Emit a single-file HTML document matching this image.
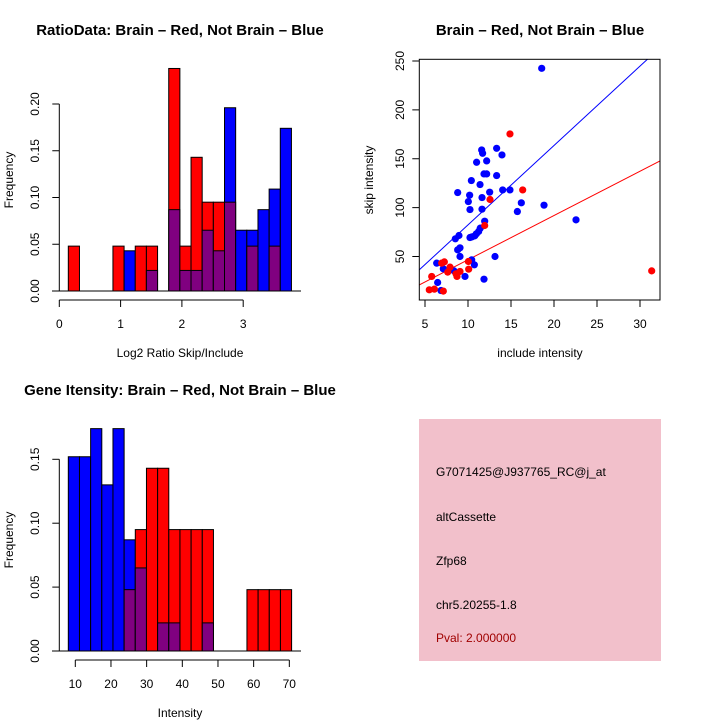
<!DOCTYPE html>
<html><head><meta charset="utf-8"><style>
body{margin:0;background:#fff}
svg{display:block;font-family:"Liberation Sans",sans-serif}
</style></head><body>
<svg id="s" width="720" height="720" viewBox="0 0 720 720"></svg>
<script>
// ---- data: ratio histogram ----
const ratioBinStart = 0.147, ratioBinWidth = 0.182;
const ratioRed  = [0.048,0,0,0,0.048,0,0.048,0.048,0,0.238,0.048,0.143,0.095,0.095,0.095,0,0.048,0,0.048,0];
const ratioBlue = [0,0,0,0,0,0.043,0,0.022,0,0.087,0.022,0.022,0.065,0.043,0.196,0.065,0.065,0.087,0.109,0.174];
const ratioXTicks = [0,1,2,3];
const ratioYTicks = ["0.00","0.05","0.10","0.15","0.20"];
// ---- data: intensity histogram ----
const intBinStart = 8.04, intBinWidth = 3.13;
const intRed  = [0,0,0,0,0,0.048,0.095,0.143,0.143,0.095,0.095,0.095,0.095,0,0,0,0.048,0.048,0.048,0.048];
const intBlue = [0.152,0.152,0.174,0.130,0.174,0.087,0.065,0,0.022,0.022,0,0,0.022,0,0,0,0,0,0,0];
const intXTicks = [10,20,30,40,50,60,70];
const intYTicks = ["0.00","0.05","0.10","0.15"];
// ---- data: scatter ----
const blueX = [18.57,13.33,11.59,11.7,13.95,12.17,11.0,10.39,11.86,12.17,13.33,11.4,8.8,12.52,14.03,14.88,10.19,11.63,10.04,10.23,11.63,16.2,18.84,15.74,22.56,11.94,11.43,11.24,10.97,10.78,8.95,8.53,10.23,10.47,8.8,9.07,9.07,13.14,6.36,10.43,10.74,7.13,8.37,9.65,6.47,6.86,11.86];
const blueY = [242.5,160.7,159,155.6,153.9,147.8,146.4,127.7,134.5,134.5,132.8,123.6,115.4,115.8,118.1,118.1,112.7,110.3,106.2,98,98.4,104.9,102.5,96,87.5,86.1,79,75.6,73.2,71.1,71.5,68.1,69.4,70.1,56.8,58.9,50,50,43.2,46.6,41.5,37.4,35.3,29.6,23.4,15.2,26.8];
const redX = [14.88,16.36,12.56,11.94,31.36,10.04,10.08,7.25,6.94,5.78,7.91,7.64,8.6,9.07,8.72,5.5,6.09,7.13];
const redY = [175.4,118.1,108.3,81.7,35.3,44.9,37,44.5,43.2,29.6,39.1,34,32.3,34.7,29.6,15.9,16.6,14.6];
const blueFit = [1.16, 8.12];  // intercept, slope
const redFit = [1.34, 4.53];
const scXTicks = [5,10,15,20,25,30];
const scYTicks = [50,100,150,200,250];

const NS="http://www.w3.org/2000/svg", svg=document.getElementById('s');
function el(t,a,p){const e=document.createElementNS(NS,t);for(const k in a)e.setAttribute(k,a[k]);(p||svg).appendChild(e);return e;}
function txt(s,a,p){const e=el('text',a,p);e.textContent=s;return e;}
const BLUE='#0000ff',RED='#ff0000',PUR='#800080';

function hist(g, start, w, red, blue, sx, sy){
  for(let i=0;i<red.length;i++){
    const x0=sx(start+i*w), x1=sx(start+(i+1)*w);
    const r=red[i], b=blue[i], m=Math.min(r,b), M=Math.max(r,b);
    if(M>0){
      const top=el('rect',{x:x0,y:sy(M),width:x1-x0,height:sy(0)-sy(M),fill:r>b?RED:BLUE,stroke:'#000','stroke-width':1},g);
      
      
    }
    if(m>0){
      const p=el('rect',{x:x0,y:sy(m),width:x1-x0,height:sy(0)-sy(m),fill:PUR,stroke:'#000','stroke-width':1},g);
      
      
    }
  }
}
function yAxisRot(g,ticks,vals,sy,x,lbx){
  el('line',{x1:x,x2:x,y1:sy(vals[0]),y2:sy(vals[vals.length-1]),stroke:'#000'},g);
  ticks.forEach((t,i)=>{const y=sy(vals[i]);
    el('line',{x1:x-7,x2:x,y1:y,y2:y,stroke:'#000'},g);
    const e=txt(t,{x:lbx,y:y,'font-size':12,'text-anchor':'middle',transform:`rotate(-90 ${lbx} ${y})`},g);
    
    
  });
}
function xAxis(g,ticks,sx,y,ly){
  el('line',{x1:sx(ticks[0]),x2:sx(ticks[ticks.length-1]),y1:y,y2:y,stroke:'#000'},g);
  ticks.forEach(t=>{const x=sx(t);
    el('line',{x1:x,x2:x,y1:y,y2:y+7,stroke:'#000'},g);
    const e=txt(String(t),{x:x,y:ly,'font-size':12,'text-anchor':'middle'},g);
    
    
  });
}

// ---- Panel 1 ----
{
const g=el('g',{});


const sx=v=>59.3+v*61.3, sy=v=>291-v*935;
hist(g,ratioBinStart,ratioBinWidth,ratioRed,ratioBlue,sx,sy);
el('line',{x1:52,x2:301,y1:291,y2:291,stroke:'#000'},g);
yAxisRot(g,ratioYTicks,ratioYTicks.map(Number),sy,59.3,39);
xAxis(g,ratioXTicks,sx,300,328);
const t=txt('RatioData: Brain – Red, Not Brain – Blue',{x:180,y:35,'font-size':15,'font-weight':'bold','text-anchor':'middle'},g);

const xl=txt('Log2 Ratio Skip/Include',{x:180,y:357,'font-size':12,'text-anchor':'middle'},g);

const yl=txt('Frequency',{x:13,y:180,'font-size':12,'text-anchor':'middle',transform:'rotate(-90 13 180)'},g);

}
// ---- Panel 2 scatter ----
{
const g=el('g',{});


const sx=v=>425+(v-5)*8.6, sy=v=>256.5-(v-50)*0.9775;
const X0=419.3,X1=660,Y0=59.3,Y1=300;
el('clipPath',{id:'cp'},g); el('rect',{x:X0,y:Y0,width:X1-X0,height:Y1-Y0},g.lastChild);
const xa=4.2,xb=33;
[[blueFit,BLUE,'blue-fit-line'],[redFit,RED,'red-fit-line']].forEach(([f,c,n])=>{
  const l=el('line',{x1:sx(xa),y1:sy(f[0]+f[1]*xa),x2:sx(xb),y2:sy(f[0]+f[1]*xb),stroke:c,'stroke-width':1,'clip-path':'url(#cp)'},g);
  
});
blueX.forEach((v,i)=>{const c=el('circle',{cx:sx(v),cy:sy(blueY[i]),r:3.6,fill:BLUE},g);
  });
redX.forEach((v,i)=>{const c=el('circle',{cx:sx(v),cy:sy(redY[i]),r:3.6,fill:RED},g);
  });
el('rect',{x:X0,y:Y0,width:X1-X0,height:Y1-Y0,fill:'none',stroke:'#000'},g);
scYTicks.forEach(t=>{const y=sy(t);el('line',{x1:X0-7,x2:X0,y1:y,y2:y,stroke:'#000'},g);
  const e=txt(String(t),{x:404,y:y,'font-size':12,'text-anchor':'middle',transform:`rotate(-90 404 ${y})`},g);
  });
scXTicks.forEach(t=>{const x=sx(t);el('line',{x1:x,x2:x,y1:Y1,y2:Y1+7,stroke:'#000'},g);
  const e=txt(String(t),{x:x,y:328,'font-size':12,'text-anchor':'middle'},g);
  });
const t=txt('Brain – Red, Not Brain – Blue',{x:540,y:35,'font-size':15,'font-weight':'bold','text-anchor':'middle'},g);

const xl=txt('include intensity',{x:540,y:357,'font-size':12,'text-anchor':'middle'},g);

const yl=txt('skip intensity',{x:373,y:180,'font-size':12,'text-anchor':'middle',transform:'rotate(-90 373 180)'},g);

}
// ---- Panel 3 ----
{
const g=el('g',{});


const sx=v=>75.3+(v-10)*3.567, sy=v=>651-v*1278;
hist(g,intBinStart,intBinWidth,intRed,intBlue,sx,sy);
el('line',{x1:52,x2:301,y1:651,y2:651,stroke:'#000'},g);
yAxisRot(g,intYTicks,intYTicks.map(Number),sy,59.3,39);
xAxis(g,intXTicks,sx,660,688);
const t=txt('Gene Itensity: Brain – Red, Not Brain – Blue',{x:180,y:395,'font-size':15,'font-weight':'bold','text-anchor':'middle'},g);

const xl=txt('Intensity',{x:180,y:717,'font-size':12,'text-anchor':'middle'},g);

const yl=txt('Frequency',{x:13,y:540,'font-size':12,'text-anchor':'middle',transform:'rotate(-90 13 540)'},g);

}
</script>
<svg style="position:absolute;left:0;top:0" width="720" height="720">
<g font-family="Liberation Sans, sans-serif" font-size="12">
<rect x="419" y="419" width="242" height="242" fill="#f2c0cb"/>
<text x="436" y="476">G7071425@J937765_RC@j_at</text>
<text x="436" y="521">altCassette</text>
<text x="436" y="565">Zfp68</text>
<text x="436" y="609">chr5.20255-1.8</text>
<text x="436" y="642" fill="#a00000">Pval: 2.000000</text>
</g></svg>
</body></html>
